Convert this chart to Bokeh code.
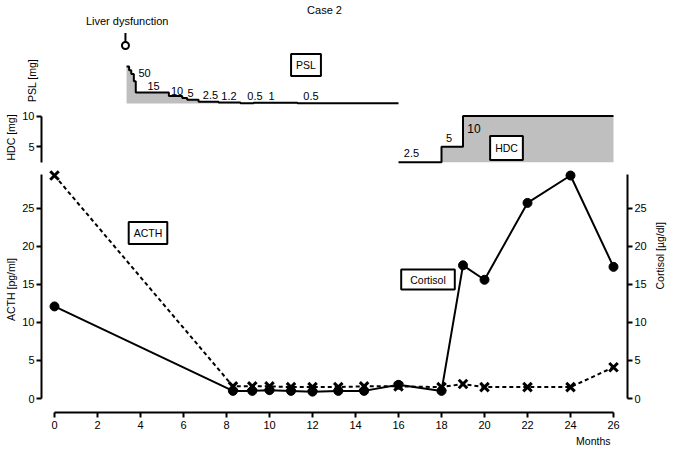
import math
from bokeh.plotting import figure
from bokeh.models import Range1d, LinearAxis, FixedTicker, Label, Title
from bokeh.layouts import column
from bokeh.embed import file_html
from bokeh.resources import INLINE

# ---------------- data ----------------
acth_months = [0, 8.3, 9.2, 10, 11, 12, 13.2, 14.4, 16, 18, 19, 20, 22, 24, 26]
acth_values = [29.3, 1.6, 1.6, 1.6, 1.5, 1.5, 1.5, 1.6, 1.6, 1.5, 1.9, 1.5, 1.5, 1.5, 4.1]
cortisol_months = [0, 8.3, 9.2, 10, 11, 12, 13.2, 14.4, 16, 18, 19, 20, 22, 24, 26]
cortisol_values = [12.1, 1.0, 1.0, 1.1, 1.0, 0.9, 1.0, 1.0, 1.8, 1.0, 17.5, 15.6, 25.7, 29.3, 17.3]
psl_months = [3.35, 3.47, 3.57, 3.69, 3.78, 5.32, 5.94, 6.17, 6.70, 7.63, 8.65, 9.26, 11.3, 16.0]
psl_doses = [50, 45, 40, 30, 15, 10, 7.5, 5, 2.5, 1.2, 0.5, 1, 0.5, 0.5]
psl_dose_labels = ["50", "15", "10", "5", "2.5", "1.2", "0.5", "1", "0.5"]
hdc_months = [16, 18, 19, 26]
hdc_doses = [2.5, 5, 10, 10]
hdc_dose_labels = ["2.5", "5", "10"]
liver_dysfunction_month = 3.3
month_ticks = list(range(0, 27, 2))
conc_ticks = [0, 5, 10, 15, 20, 25]
hdc_ticks = [5, 10]

# ---------------- layout (image pixel calibration) ----------------
FONT = "Liberation Sans"
W = 677
BL, BR = 41, 50
FRAME_L, FRAME_R = 41, 627


def mx(px):
    return (px - 54.0) / 21.5


def yc(py):   # main panel (ACTH / cortisol)
    return (398.0 - py) / 7.61


def yb(py):   # HDC panel
    return 10.0 - (py - 115.5) / 6.16


def ya(py):   # PSL panel
    return (103.0 - py) / 0.74


psl_label_px = [(144, 72.5), (153, 85.5), (176.5, 90), (190, 92.5), (210, 94),
                (228.5, 95), (254.5, 95), (271, 95), (310.5, 95)]
hdc_label_px = [(411, 152.5), (448.5, 137.5), (473.5, 128)]

x_range = Range1d(mx(FRAME_L), mx(FRAME_R))
GRAY = "#bfbfbf"


def make_fig(h, y_range, bottom=0):
    p = figure(width=W, height=h, x_range=x_range, y_range=y_range,
               x_axis_type=None, y_axis_type=None,
               output_backend="svg", toolbar_location=None,
               min_border_left=BL, min_border_right=BR,
               min_border_top=0, min_border_bottom=bottom)
    p.outline_line_color = None
    return p


def style_axis(ax, size="11px"):
    ax.axis_line_width = 2
    ax.axis_line_color = "black"
    ax.major_tick_line_width = 2
    ax.major_tick_line_color = "black"
    ax.major_tick_out = 5
    ax.major_tick_in = 0
    ax.minor_tick_line_color = None
    ax.major_label_standoff = 2
    ax.major_label_text_font = FONT
    ax.major_label_text_font_size = size
    ax.major_label_text_color = "black"
    ax.axis_label_text_font = FONT
    ax.axis_label_text_font_size = "10.5px"
    ax.axis_label_text_font_style = "normal"
    ax.axis_label_text_color = "black"
    ax.axis_label_standoff = 2


def box_label(p, x, y, text, pad):
    p.add_layout(Label(x=x, y=y, text=text, text_align="center", text_baseline="middle",
                       text_font=FONT, text_font_size="10.5px", text_color="black",
                       background_fill_color="white", border_line_color="black",
                       border_line_width=2, padding=pad))


def plain_label(p, x, y, text, size="11px"):
    p.add_layout(Label(x=x, y=y, text=text, text_align="center", text_baseline="middle",
                       text_font=FONT, text_font_size=size, text_color="black"))


# ---------------- fig 0 : title + event ----------------
f0 = make_fig(52, Range1d(52, 0))
plain_label(f0, mx(324), 9.5, "Case 2")
plain_label(f0, liver_dysfunction_month + 0.08, 20.5, "Liver dysfunction")
f0.segment(x0=[liver_dysfunction_month], y0=[32.5], x1=[liver_dysfunction_month], y1=[41.5],
           line_width=2, line_color="black")
f0.scatter([liver_dysfunction_month], [45], marker="circle", size=7, line_width=2,
           line_color="black", fill_color="white")

# ---------------- fig A : PSL ----------------
fA = make_fig(56, Range1d(ya(108), ya(52)))
fA.varea_step(x=psl_months, y1=[0] * len(psl_months), y2=psl_doses, step_mode="after",
              fill_color=GRAY)
fA.step(psl_months, psl_doses, mode="after", line_width=2, line_color="black")
axA = LinearAxis(ticker=FixedTicker(ticks=[]), axis_label="PSL [mg]")
style_axis(axA)
axA.axis_line_color = None
axA.major_tick_out = 0
axA.major_label_standoff = 0
axA.axis_label_standoff = 4
fA.add_layout(axA, "left")
for (px, py), t in zip(psl_label_px, psl_dose_labels):
    plain_label(fA, mx(px), ya(py), t)
box_label(fA, mx(305.5), ya(64.5), "PSL", (5, 5))

# ---------------- fig B : HDC ----------------
fB = make_fig(58, Range1d(yb(166), yb(108)))
fB.varea_step(x=hdc_months, y1=[hdc_doses[0]] * len(hdc_months), y2=hdc_doses,
              step_mode="after", fill_color=GRAY)
fB.step(hdc_months, hdc_doses, mode="after", line_width=2, line_color="black")
axB = LinearAxis(ticker=FixedTicker(ticks=hdc_ticks), bounds=(2.5, 10), axis_label="HDC [mg]")
style_axis(axB)
fB.add_layout(axB, "left")
for (px, py), t in zip(hdc_label_px, hdc_dose_labels):
    plain_label(fB, mx(px), yb(py), t, "12px" if t == "10" else "11px")
box_label(fB, mx(506), yb(147.5), "HDC", (5, 6))

# ---------------- fig C : ACTH / cortisol ----------------
fC = make_fig(284, Range1d(yc(412), yc(166)), bottom=38)
fC.extra_y_ranges = {"cortisol": Range1d(yc(412), yc(166))}

fC.line(cortisol_months, cortisol_values, y_range_name="cortisol", line_width=2, line_color="black")
fC.scatter(cortisol_months, cortisol_values, y_range_name="cortisol", marker="circle", size=9,
           line_color="black", fill_color="black")
fC.line(acth_months, acth_values, line_width=2, line_color="black", line_dash="4 3")
fC.scatter(acth_months, acth_values, marker="x", size=12, line_width=3, line_color="black")

axL = LinearAxis(ticker=FixedTicker(ticks=conc_ticks), bounds=(0, 29.4), axis_label="ACTH [pg/ml]")
style_axis(axL)
fC.add_layout(axL, "left")

axR = LinearAxis(y_range_name="cortisol", ticker=FixedTicker(ticks=conc_ticks), bounds=(0, 29.4),
                 axis_label="Cortisol [µg/dl]")
style_axis(axR)
axR.axis_label_standoff = 10
axR.axis_label_orientation = math.pi / 2
fC.add_layout(axR, "right")

axX = LinearAxis(ticker=FixedTicker(ticks=month_ticks), bounds=(0, 26))
style_axis(axX)
axX.major_tick_out = 5
axX.major_label_standoff = 3
fC.add_layout(axX, "below")
fC.add_layout(Title(text="Months", align="right", offset=17, standoff=2,
                    text_font=FONT, text_font_size="10.5px", text_font_style="normal",
                    text_color="black"), "below")

box_label(fC, mx(147.5), yc(232.5), "ACTH", (5, 5))
box_label(fC, mx(427.5), yc(279), "Cortisol", (9, 4))

layout = column(f0, fA, fB, fC, spacing=0)
open("out.html", "w").write(file_html(layout, INLINE))
